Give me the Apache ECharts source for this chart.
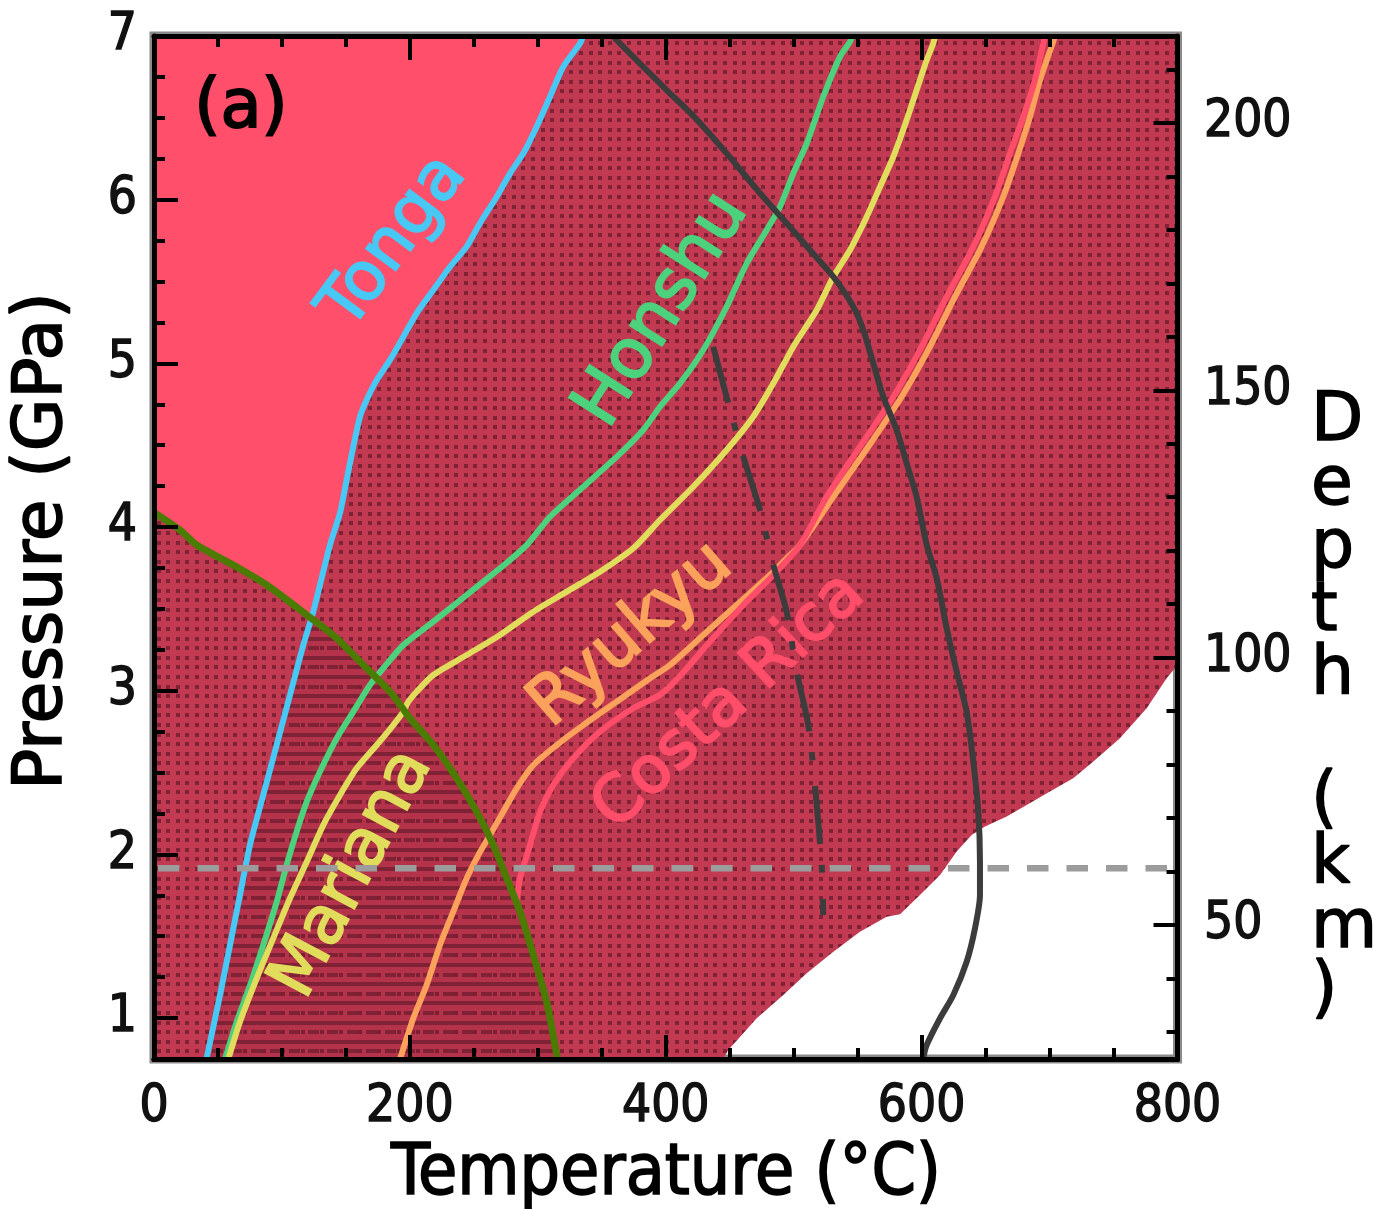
<!DOCTYPE html>
<html><head><meta charset="utf-8">
<script src="https://cdn.jsdelivr.net/npm/echarts@6/dist/echarts.min.js"></script>
<style>html,body{margin:0;padding:0;background:#fff}#c{width:1374px;height:1209px}</style>
</head><body><div id="c"></div>
<script>
// ================= DATA =================
const T_RANGE = [0, 800];          // Temperature (°C)
const P_RANGE = [0.75, 7];         // Pressure (GPa)
const xTicks = [0, 200, 400, 600, 800];
const xMinorTicks = [50,100,150,250,300,350,450,500,550,650,700,750];
const pTicks = [1, 2, 3, 4, 5, 6, 7];
const pMinorTicks = [1.25,1.5,1.75,2.25,2.5,2.75,3.25,3.5,3.75,4.25,4.5,4.75,5.25,5.5,5.75,6.25,6.5,6.75];
const depthTicks = [50, 100, 150, 200];
const depthMinorTicks = [30,40,60,70,80,90,110,120,130,140,160,170,180,190,210];
const KM_PER_GPA = 30.62, KM_AT_ZERO = 1.94;   // depth = KM_AT_ZERO + KM_PER_GPA * P

const tonga = [[41,0.75],[51.6,1.141],[59.4,1.446],[67.2,1.752],[75.0,2.057],[85.4,2.363],[95.9,2.668],[106.3,2.974],[116.7,3.279],[124.5,3.483],[137.6,3.892],[145.4,4.086],[150.6,4.289],[155.8,4.491],[161.0,4.674],[166.2,4.776],[174.1,4.898],[184.5,5.021],[194.9,5.163],[205.3,5.306],[218.3,5.448],[231.4,5.590],[244.4,5.713],[254.8,5.856],[267.9,6.018],[278.3,6.161],[288.7,6.283],[299.1,6.446],[309.5,6.629],[319.9,6.812],[333.0,6.955],[335.3,7.0]];
const honshu = [[55.5,0.75],[64.6,0.977],[75.0,1.199],[85.4,1.446],[95.9,1.710],[103.7,1.935],[111.5,2.139],[119.4,2.322],[129.7,2.505],[142.8,2.709],[155.8,2.872],[168.8,3.035],[179.2,3.137],[194.9,3.279],[218.3,3.422],[244.4,3.585],[270.4,3.748],[291.3,3.890],[309.5,4.063],[335.5,4.246],[361.6,4.429],[382.4,4.593],[395.5,4.735],[411.1,4.878],[429.3,5.082],[447.6,5.346],[463.3,5.611],[478.9,5.815],[489.3,5.957],[499.7,6.161],[510.2,6.344],[523.1,6.629],[536.2,6.874],[544.0,6.965],[545.6,7.0]];
const mariana = [[58.1,0.75],[67.2,0.978],[80.3,1.243],[93.2,1.487],[106.3,1.732],[119.4,1.955],[132.3,2.179],[145.4,2.363],[158.4,2.526],[174.1,2.668],[187.0,2.790],[194.9,2.872],[198.8,2.933],[205.3,2.994],[218.3,3.096],[244.4,3.218],[270.4,3.341],[296.5,3.483],[322.6,3.605],[348.6,3.727],[374.6,3.870],[395.5,4.043],[421.5,4.246],[447.6,4.471],[468.4,4.674],[484.1,4.878],[499.7,5.102],[518.0,5.326],[531.0,5.529],[544.0,5.693],[557.1,5.896],[567.5,6.079],[577.9,6.263],[588.3,6.487],[598.7,6.731],[604.0,6.853],[609.1,6.955],[610.4,7.0]];
const ryukyu = [[192.3,0.75],[202.7,0.999],[213.1,1.202],[223.5,1.447],[233.9,1.650],[244.4,1.854],[253.5,1.996],[262.6,2.118],[273.0,2.261],[283.5,2.404],[296.5,2.546],[314.8,2.668],[335.5,2.790],[361.6,2.933],[387.7,3.076],[403.3,3.157],[429.3,3.340],[455.4,3.524],[481.5,3.707],[494.5,3.809],[505.0,3.890],[531.0,4.185],[558.3,4.491],[584.4,4.796],[605.2,5.082],[626.1,5.407],[646.9,5.713],[663.8,6.018],[675.6,6.283],[684.7,6.507],[692.5,6.731],[702.4,6.955],[704.2,7.0]];
const costaRica = [[283.5,1.711],[286.1,1.854],[293.9,2.057],[301.7,2.261],[312.1,2.424],[327.7,2.587],[348.6,2.750],[374.6,2.893],[395.5,2.975],[411.1,3.090],[434.6,3.300],[460.6,3.524],[484.1,3.707],[505.0,3.890],[525.8,4.185],[551.8,4.491],[577.9,4.796],[598.7,5.082],[619.6,5.407],[640.4,5.713],[657.3,6.018],[669.1,6.283],[679.5,6.507],[688.6,6.731],[695.1,6.955],[696.4,7.0]];
const solidGeotherm = [[358.5,7.0],[364.2,6.955],[382.4,6.812],[400.7,6.670],[423.0,6.500],[447.6,6.283],[473.7,6.039],[494.5,5.856],[512.7,5.693],[531.0,5.529],[546.6,5.346],[554.4,5.204],[562.2,5.000],[570.0,4.796],[580.5,4.593],[588.3,4.389],[596.1,4.185],[604.0,3.890],[611.8,3.687],[619.6,3.381],[627.4,3.116],[635.2,2.872],[640.4,2.566],[644.3,2.261],[645.6,1.955],[645.6,1.752],[641.7,1.548],[635.2,1.344],[624.8,1.141],[614.4,0.999],[604.0,0.836],[601.3,0.75]];
const dashDotCurve = [[437.1,5.102],[448.9,4.756],[460.6,4.430],[473.7,4.104],[484.1,3.768],[494.5,3.483],[502.3,3.116],[511.4,2.791],[516.6,2.424],[521.9,1.935],[523.1,1.629]];
const greenBoundary = [[0,4.09],[20.3,3.982],[33.4,3.890],[62.0,3.768],[88.1,3.646],[119.4,3.463],[142.8,3.320],[163.6,3.157],[184.5,2.994],[200.1,2.832],[218.3,2.669],[236.6,2.465],[252.2,2.261],[265.2,2.058],[275.7,1.854],[286.1,1.651],[296.5,1.386],[306.9,1.100],[314.8,0.775],[315.4,0.75]];
const whiteEdge = [[445,0.75],[448.9,0.805],[471.1,0.999],[491.9,1.141],[510.2,1.274],[531.0,1.406],[551.8,1.528],[572.7,1.619],[583.1,1.634],[598.7,1.752],[614.4,1.874],[627.4,2.017],[639.1,2.119],[649.5,2.170],[666.5,2.231],[682.1,2.302],[700.3,2.384],[718.5,2.465],[734.2,2.567],[755.0,2.710],[775.9,2.893],[791.5,3.076],[800,3.157]];
const dashedPressure = 1.915;

// ================= ANNOTATIONS (positions / styles) =================
const annotations = [
  {text:'(a)',        at:[68.0,6.548],  angle:0,    size:67, color:'#000000'},
  {text:'Tonga',      at:[188.0,5.738], angle:53.5, size:67, color:'#48C8F4'},
  {text:'Honshu',     at:[397.8,5.323], angle:57.5, size:69, color:'#4CD27C'},
  {text:'Mariana',    at:[155.5,1.880], angle:62,   size:67, color:'#E2DC5C'},
  {text:'Ryukyu',     at:[373.2,3.337], angle:41,   size:67, color:'#FAA25C'},
  {text:'Costa Rica', at:[449.8,2.931], angle:43,   size:65, color:'#FF4D6A'}
];

// ================= helpers =================
const BASE = '#C13A52', DOT = '#7F2236', BRIGHT = '#FF4F6B';
function dotsPattern(){
  const c=document.createElement('canvas'); c.width=96; c.height=96;
  const g=c.getContext('2d'); g.fillStyle=BASE; g.fillRect(0,0,96,96);
  g.fillStyle=DOT;
  for(let i=0;i<10;i++) for(let j=0;j<10;j++) g.fillRect(Math.round(i*9.6)+3, Math.round(j*9.6)+3, 4, 4);
  return c;
}
function stripePattern(){
  const c=document.createElement('canvas'); c.width=96; c.height=96;
  const g=c.getContext('2d'); g.fillStyle='rgba(110,20,40,0.16)'; g.fillRect(0,0,96,96);
  g.fillStyle=DOT;
  for(let j=0;j<10;j++){
    const y=Math.round(j*9.6)+3;
    if(j%2===0) g.fillRect(0,y,96,4);
    else for(let i=0;i<10;i+=2) g.fillRect(Math.round(i*9.6)+1,y,11,4);
  }
  return c;
}
function segIntersect(a,b,c,d){
  const r=[b[0]-a[0],b[1]-a[1]], s=[d[0]-c[0],d[1]-c[1]];
  const den=r[0]*s[1]-r[1]*s[0]; if(Math.abs(den)<1e-12) return null;
  const t=((c[0]-a[0])*s[1]-(c[1]-a[1])*s[0])/den;
  const u=((c[0]-a[0])*r[1]-(c[1]-a[1])*r[0])/den;
  if(t>=0&&t<=1&&u>=0&&u<=1) return {t,u,pt:[a[0]+t*r[0],a[1]+t*r[1]]};
  return null;
}
function crossing(A,B){
  for(let i=0;i<A.length-1;i++) for(let j=0;j<B.length-1;j++){
    const r=segIntersect(A[i],A[i+1],B[j],B[j+1]); if(r) return {i,j,pt:r.pt};
  }
  return null;
}
const X = crossing(tonga, greenBoundary);
const tongaAbove = [X.pt].concat(tonga.slice(X.i+1));
const tongaBelow = tonga.slice(0,X.i+1).concat([X.pt]);
const bndLeft = greenBoundary.slice(0,X.j+1).concat([X.pt]);
const bndRight = [X.pt].concat(greenBoundary.slice(X.j+1));

const stippledPoly = [[T_RANGE[0],P_RANGE[0]]].concat(whiteEdge, [[T_RANGE[1],P_RANGE[1]],[T_RANGE[0],P_RANGE[1]]]);
const brightPoly = tongaAbove.concat([[T_RANGE[0],P_RANGE[1]]], bndLeft);
const stripedPoly = tongaBelow.slice().reverse().concat(bndRight.slice().reverse());

const dotFill = {image: dotsPattern(), repeat:'repeat'};
const stripeFill = {image: stripePattern(), repeat:'repeat'};

function polySeries(poly, fill){
  return {type:'custom', coordinateSystem:'cartesian2d', xAxisIndex:0, yAxisIndex:0, silent:true, animation:false,
    data:[[poly[0][0], poly[0][1]]],
    renderItem:(params, api)=>({type:'polygon', shape:{points: poly.map(p=>api.coord(p))}, style:{fill: fill}})
  };
}
function lineSeries(data, color, width, dash, dashOffset, smooth){
  return {type:'line', xAxisIndex:0, yAxisIndex:0, data:data, showSymbol:false, symbol:'none', silent:true, animation:false,
    smooth: smooth===undefined ? 0.25 : smooth,
    lineStyle:{color:color, width:width, type: dash || 'solid', dashOffset: dashOffset||0, cap:'butt', join:'round'}};
}

const FONT = '"DejaVu Sans"';
const TICKFONT = '"DejaVu Sans Condensed","DejaVu Sans"';
const axisLineStyle = {show:true, onZero:false, lineStyle:{color:'#000', width:5}};
const tickLabel = (margin)=>({show:true, margin:margin, color:'#111', fontSize:51, fontFamily:TICKFONT, textBorderColor:'#111', textBorderWidth:1.4});
function xAx(pos, ticks, len, labels){
  const lab = labels ? Object.assign(tickLabel(23), {customValues:ticks}) : {show:false};
  return {type:'value', position:pos, min:T_RANGE[0], max:T_RANGE[1], z:10,
    axisLine: labels!==null ? axisLineStyle : {show:false, onZero:false},
    axisTick:{show:true, inside:true, length:len, customValues:ticks, lineStyle:{color:'#000', width:4}},
    axisLabel: lab, splitLine:{show:false}, minorTick:{show:false}};
}
const depthMin = KM_AT_ZERO + KM_PER_GPA*P_RANGE[0], depthMax = KM_AT_ZERO + KM_PER_GPA*P_RANGE[1];
function yAx(pos, min, max, ticks, len, labels, showLine, margin){
  const lab = labels ? Object.assign(tickLabel(margin), {customValues:ticks}) : {show:false};
  return {type:'value', position:pos, min:min, max:max, z:10,
    axisLine: showLine ? axisLineStyle : {show:false, onZero:false},
    axisTick:{show:true, inside:true, length:len, customValues:ticks, lineStyle:{color:'#000', width:4}},
    axisLabel: lab, splitLine:{show:false}, minorTick:{show:false}};
}

const chart = echarts.init(document.getElementById('c'), null, {renderer:'canvas', width:1374, height:1209});
chart.setOption({
  backgroundColor:'#ffffff',
  animation:false,
  grid:{left:154, top:36, width:1023.5, height:1023, show:true, borderColor:'#8a8a8a', borderWidth:9, backgroundColor:'transparent', containLabel:false, outerBoundsMode:'none'},
  xAxis:[ xAx('bottom', xTicks, 24, true), xAx('bottom', xMinorTicks, 11, false), xAx('top', xTicks, 24, false), xAx('top', xMinorTicks, 11, null) ],
  yAxis:[
    yAx('left', P_RANGE[0], P_RANGE[1], pTicks, 24, true, true, 17),
    yAx('left', P_RANGE[0], P_RANGE[1], pMinorTicks, 11, false, false),
    yAx('right', depthMin, depthMax, depthTicks, 24, true, true, 26.5),
    yAx('right', depthMin, depthMax, depthMinorTicks, 11, false, false)
  ],
  series:[
    polySeries(stippledPoly, dotFill),
    polySeries(brightPoly, BRIGHT),
    lineSeries(tonga, '#48C8F4', 6),
    lineSeries(honshu, '#4CD27C', 6),
    lineSeries(mariana, '#E2DC5C', 6),
    lineSeries(ryukyu, '#FAA25C', 6),
    lineSeries(costaRica, '#FF4D6A', 6),
    lineSeries(solidGeotherm, '#3C3C3C', 6),
    lineSeries(dashDotCurve, '#3C3C3C', 6, [58,21,8,26]),
    polySeries(stripedPoly, stripeFill),
    lineSeries([[T_RANGE[0],dashedPressure],[T_RANGE[1],dashedPressure]], '#9C9C9C', 6.5, [21.5,18], 35.5, false),
    lineSeries(greenBoundary, '#4B7B00', 7),
    {type:'custom', coordinateSystem:'cartesian2d', xAxisIndex:0, yAxisIndex:0, silent:true, animation:false, clip:false,
      data: annotations.map(a=>a.at),
      renderItem:(params, api)=>{
        const a = annotations[params.dataIndex];
        const p = api.coord([api.value(0), api.value(1)]);
        return {type:'text', x:p[0], y:p[1], rotation:a.angle*Math.PI/180,
          style:{text:a.text, fill:a.color, stroke:a.color, lineWidth:2, font:a.size+'px '+FONT, align:'center', verticalAlign:'middle'}};
      }}
  ],
  graphic:{elements:[
    {type:'text', x:43, y:541, rotation:Math.PI/2, silent:true,
      style:{text:'Pressure (GPa)', font:'68px '+FONT, fill:'#000', stroke:'#000', lineWidth:1.6, align:'center', verticalAlign:'middle'}},
    {type:'text', x:666, y:1176, silent:true,
      style:{text:'Temperature (°C)', font:'71px '+TICKFONT, fill:'#000', stroke:'#000', lineWidth:1.6, align:'center', verticalAlign:'middle'}},
    {type:'text', x:1311, y:391, silent:true,
      style:{text:'D\ne\np\nt\nh\n \n(\nk\nm\n)', font:'68px '+FONT, lineHeight:63.3, fill:'#000', stroke:'#000', lineWidth:1.4, align:'left', verticalAlign:'top'}}
  ]}
});
</script></body></html>
